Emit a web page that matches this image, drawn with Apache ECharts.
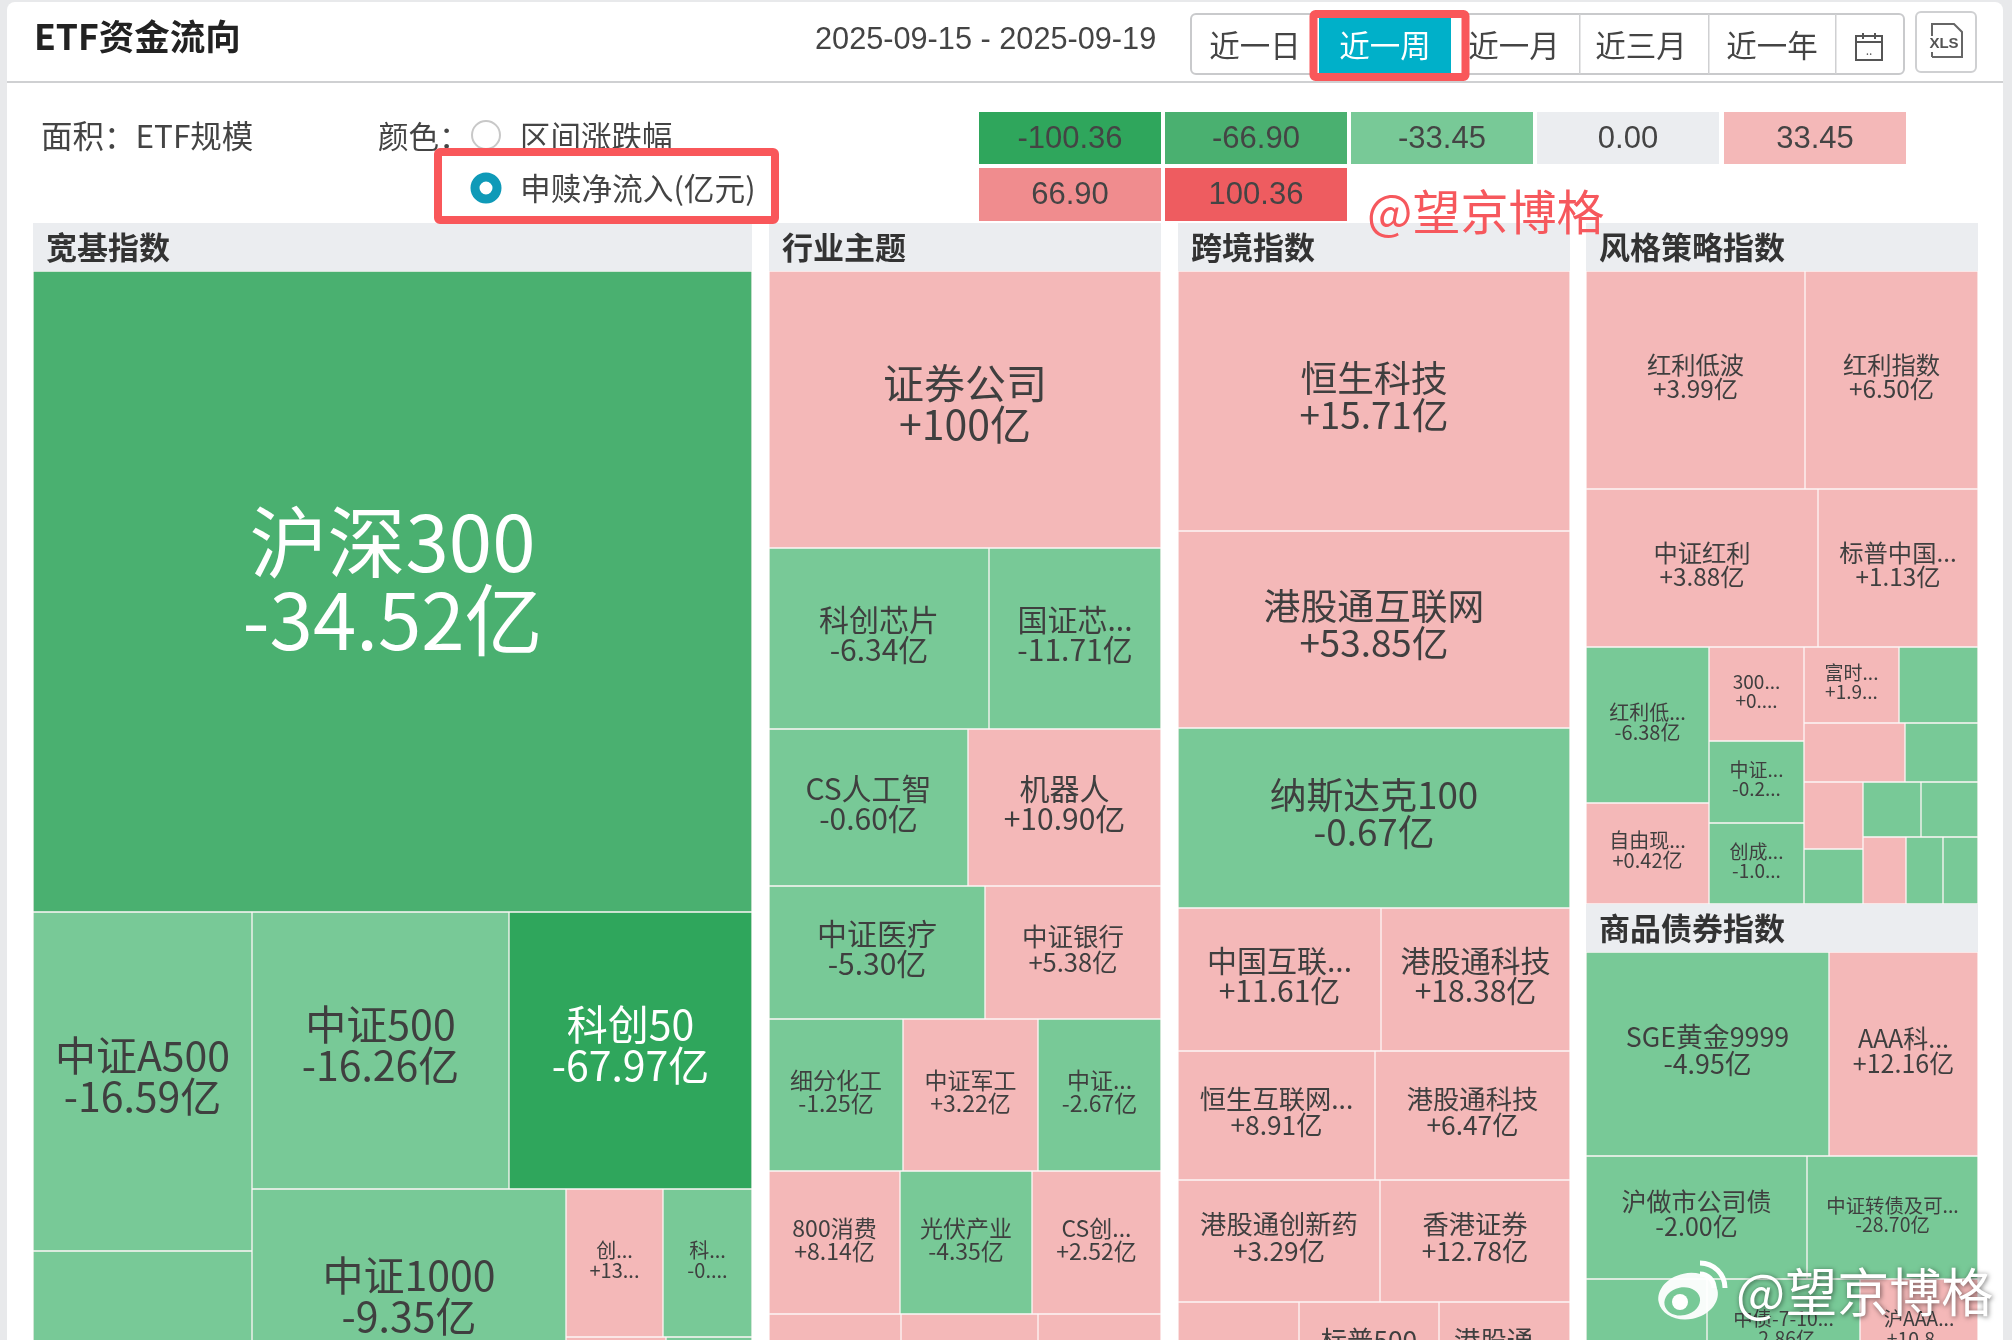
<!DOCTYPE html>
<html>
<head>
<meta charset="utf-8">
<style>
  html, body { margin: 0; padding: 0; background: #e8e9eb; overflow: hidden; }
  #main { width: 2012px; height: 1340px; }
</style>
</head>
<body>
<div id="main"></div>
<script src="https://cdn.jsdelivr.net/npm/echarts@6/dist/echarts.min.js"></script>
<script>
// 图例
const legendLabels = ['-100.36', '-66.90', '-33.45', '0.00', '33.45', '66.90', '100.36'];
const legendColors = ['#2fa65c', '#4ab070', '#78c997', '#ebedf0', '#f4b8b8', '#f08c8e', '#ee5c60'];
const rangeButtons = ['近一日', '近一周', '近一月', '近三月', '近一年'];

// 宽基指数：面积 = ETF规模，读图估算；最后几格在截图外
const kuanjiNames = ['沪深300', '中证A500', '', '中证500', '科创50', '中证1000', '创...', '科...', '', ''];
const kuanjiScale = [460879, 74241, 35697, 71189, 67311, 70650, 14356, 13172, 7700, 6622];
const kuanjiFlow = ['-34.52亿', '-16.59亿', '-5.20亿', '-16.26亿', '-67.97亿', '-9.35亿', '+13...', '-0....', '+2.10亿', '-0.80亿'];
const kuanjiTree = [0, [[1, 2], [[3, 4], [5, [[6, 7], [8, 9]]]]]];

// 行业主题
const hangyeNames = ['证券公司', '科创芯片', '国证芯...', 'CS人工智', '机器人', '中证医疗', '中证银行', '细分化工', '中证军工', '中证...', '800消费', '光伏产业', 'CS创...', '', '', '', ''];
const hangyeScale = [108584, 39820, 31132, 31243, 30301, 28728, 23408, 20368, 20520, 18696, 18733, 18876, 18447, 14520, 15070, 13530, 117600];
const hangyeFlow = ['+100亿', '-6.34亿', '-11.71亿', '-0.60亿', '+10.90亿', '-5.30亿', '+5.38亿', '-1.25亿', '+3.22亿', '-2.67亿', '+8.14亿', '-4.35亿', '+2.52亿', '+1.20亿', '+2.40亿', '+0.90亿', '+1.00亿'];
const hangyeTree = [0, [1, 2], [3, 4], [5, 6], [7, 8, 9], [10, 11, 12], [13, 14, 15], 16];

// 跨境指数
const kuajingNames = ['恒生科技', '港股通互联网', '纳斯达克100', '中国互联...', '港股通科技', '恒生互联网...', '港股通科技', '港股通创新药', '香港证券', '', '标普500', '港股通...', ''];
const kuajingScale = [101920, 77224, 70560, 29029, 27027, 25413, 25155, 24644, 23180, 13310, 15400, 14410, 117600];
const kuajingFlow = ['+15.71亿', '+53.85亿', '-0.67亿', '+11.61亿', '+18.38亿', '+8.91亿', '+6.47亿', '+3.29亿', '+12.78亿', '+1.50亿', '+2.10亿', '+3.40亿', '+1.00亿'];
const kuajingTree = [0, 1, 2, [3, 4], [5, 6], [7, 8], [9, 10, 11], 12];

// 风格策略指数
const fenggeNames = ['红利低波', '红利指数', '中证红利', '标普中国...', '红利低...', '自由现...', '300...', '中证...', '创成...', '富时...', '', '', '', '', '', '', '', '', '', ''];
const fenggeScale = [47742, 37714, 36656, 25280, 19188, 12423, 8930, 7790, 7695, 7220, 6004, 5959, 4307, 3953, 3245, 3190, 3135, 2881, 2479, 2345];
const fenggeFlow = ['+3.99亿', '+6.50亿', '+3.88亿', '+1.13亿', '-6.38亿', '+0.42亿', '+0....', '-0.2...', '-1.0...', '+1.9...', '-0.60亿', '+0.50亿', '-0.40亿', '+0.30亿', '-0.20亿', '-0.30亿', '-0.10亿', '+0.20亿', '-0.10亿', '-0.20亿'];
const fenggeTree = [[0, 1], [2, 3], [[4, 5], [6, 7, 8], [[9, 10], [11, 12], [[13, 14], [[15, 16], [17, 18, 19]]]]]];

// 商品债券指数
const shangpinNames = ['SGE黄金9999', 'AAA科...', '沪做市公司债', '中证转债及可...', '', '中债-7-10...', '沪AAA...', ''];
const shangpinScale = [49572, 30396, 27183, 21033, 12584, 15912, 12272, 117600];
const shangpinFlow = ['-4.95亿', '+12.16亿', '-2.00亿', '-28.70亿', '-1.10亿', '-2.86亿', '+10.8...', '+1.00亿'];
const shangpinTree = [[0, 1], [2, 3], [4, 5, 6], 7];

const CJK = '"Noto Sans CJK SC", "Noto Sans", sans-serif';
const LATIN = '"Liberation Sans", "Noto Sans CJK SC", sans-serif';

function flowColor(flow) {
  const v = parseFloat(flow);
  if (v <= -66.9) return legendColors[0];
  if (v <= -33.45) return legendColors[1];
  if (flow.charAt(0) === '-') return legendColors[2];
  if (v > 100.36) return legendColors[6];
  return legendColors[4];
}

// 字号档位：[规模下限, 字号]
function labelSize(value, stops) {
  for (let i = 0; i < stops.length; i++) {
    if (value >= stops[i][0]) return stops[i][1];
  }
  return stops[stops.length - 1][1];
}

function buildNode(spec, g) {
  if (Array.isArray(spec)) {
    return { name: '', children: spec.map(s => buildNode(s, g)) };
  }
  const name = g.names[spec];
  const flow = g.flow[spec];
  const size = labelSize(g.scale[spec], g.stops);
  const dark = parseFloat(flow) <= -33.45;
  return {
    name: name,
    value: g.scale[spec],
    itemStyle: { color: flowColor(flow), borderColor: '#fdf6f6', borderWidth: 0.65 },
    label: {
      show: name !== '',
      position: 'inside',
      offset: [0, -size * 0.13],
      formatter: name + '\n' + flow,
      fontFamily: CJK,
      fontSize: size,
      lineHeight: size,
      color: dark ? '#fff' : '#3f3f3f',
      align: 'center',
      verticalAlign: 'middle'
    }
  };
}

function treemapSeries(title, left, top, width, g) {
  const total = g.scale.reduce((a, b) => a + b, 0);
  return {
    type: 'treemap',
    left: left,
    top: top,
    width: width,
    height: 48 + total / width,
    sort: false,
    squareRatio: 1e-6,
    roam: false,
    nodeClick: false,
    silent: true,
    animation: false,
    breadcrumb: { show: false },
    visibleMin: 0,
    levels: [
      { itemStyle: { borderWidth: 0, gapWidth: 0 } },
      {
        itemStyle: { borderWidth: 0, gapWidth: 0, borderColor: '#fff' },
        upperLabel: {
          show: true,
          height: 48,
          color: '#333',
          fontFamily: CJK,
          fontSize: 31,
          fontWeight: 'bold',
          backgroundColor: '#ebedf0',
          padding: [0, 0, 0, 13],
          align: 'left',
          verticalAlign: 'middle'
        }
      }
    ],
    data: [{ name: title, children: g.tree.map(s => buildNode(s, g)) }]
  };
}

const series = [
  treemapSeries('宽基指数', 33, 223, 719, { names: kuanjiNames, scale: kuanjiScale, flow: kuanjiFlow, tree: kuanjiTree, stops: [[400000, 78], [60000, 41], [0, 20]] }),
  treemapSeries('行业主题', 769, 223, 392, { names: hangyeNames, scale: hangyeScale, flow: hangyeFlow, tree: hangyeTree, stops: [[100000, 41], [25000, 30], [22000, 25.5], [0, 23]] }),
  treemapSeries('跨境指数', 1178, 223, 392, { names: kuajingNames, scale: kuajingScale, flow: kuajingFlow, tree: kuajingTree, stops: [[60000, 36.8], [27000, 30], [0, 26.3]] }),
  treemapSeries('风格策略指数', 1586, 223, 392, { names: fenggeNames, scale: fenggeScale, flow: fenggeFlow, tree: fenggeTree, stops: [[24000, 24.3], [11000, 20], [0, 19]] }),
  treemapSeries('商品债券指数', 1586, 904, 392, { names: shangpinNames, scale: shangpinScale, flow: shangpinFlow, tree: shangpinTree, stops: [[40000, 26.8], [24000, 25], [0, 19.4]] })
];

function txt(x, y, text, size, fill, extra) {
  return {
    type: 'text',
    z: 20,
    silent: true,
    x: x,
    y: y,
    style: Object.assign({
      text: text,
      fontSize: size,
      fontFamily: CJK,
      fill: fill,
      textAlign: 'left',
      align: 'left',
      textVerticalAlign: 'middle',
      verticalAlign: 'middle'
    }, extra || {})
  };
}

function box(x, y, w, h, style, z, r) {
  return { type: 'rect', z: z === undefined ? 20 : z, silent: true, shape: { x: x, y: y, width: w, height: h, r: r || 0 }, style: style };
}

const center = { textAlign: 'center', align: 'center' };
const graphics = [];

// 卡片底
graphics.push(box(7, 2, 1996, 1400, { fill: '#fff' }, 0, 8));
graphics.push(box(7, 81, 1996, 2, { fill: '#cfd0d2' }, 1));

// 标题区
graphics.push(txt(34, 37, 'ETF资金流向', 35.5, '#222', { fontWeight: 'bold' }));
graphics.push(txt(815, 41, '2025-09-15 - 2025-09-19', 30.7, '#444', { fontFamily: LATIN }));

// 时间按钮
graphics.push(box(1191, 14, 713, 60, { fill: '#fff', stroke: '#c9cacc', lineWidth: 2 }, 1, 5));
[1579, 1708, 1835].forEach(x => graphics.push(box(x, 14, 1.5, 60, { fill: '#cfd0d2' }, 1)));
const buttonCenters = [1255, 1385, 1514, 1641, 1772];
rangeButtons.forEach((b, i) => {
  if (i === 1) graphics.push(box(1319, 18, 132, 55, { fill: '#00b0c9' }, 2));
  graphics.push(txt(buttonCenters[i], 45, b, 30.5, i === 1 ? '#fff' : '#444', center));
});
graphics.push(box(1313.5, 14, 152, 63, { fill: 'none', stroke: '#f9575a', lineWidth: 8 }, 21, 2));

// 日历图标
graphics.push(box(1856, 36, 26, 24, { fill: 'none', stroke: '#555', lineWidth: 2 }));
graphics.push(box(1856, 41, 26, 2, { fill: '#555' }));
graphics.push(box(1862, 33, 2, 6, { fill: '#555' }));
graphics.push(box(1874, 33, 2, 6, { fill: '#555' }));
graphics.push(txt(1869, 50, '..', 12, '#555', center));

// 导出按钮
graphics.push(box(1916, 12, 60, 60, { fill: '#fff', stroke: '#cfd0d2', lineWidth: 2 }, 1, 5));
graphics.push({
  type: 'polyline', z: 20, silent: true,
  shape: { points: [[1932, 57], [1932, 24], [1954, 24], [1962, 32], [1962, 57], [1932, 57]] },
  style: { fill: 'none', stroke: '#666', lineWidth: 2 }
});
graphics.push(box(1926, 36, 34, 16, { fill: '#fff' }));
graphics.push(txt(1944, 44, 'XLS', 15, '#555', Object.assign({ fontWeight: 'bold', fontFamily: LATIN }, center)));

// 选项
graphics.push(txt(41, 136, '面积：ETF规模', 31.5, '#444'));
graphics.push(txt(378, 136, '颜色：', 30.5, '#444'));
graphics.push({ type: 'circle', z: 20, silent: true, shape: { cx: 486, cy: 135, r: 14 }, style: { fill: '#fff', stroke: '#c8c8c8', lineWidth: 2 } });
graphics.push(txt(520, 136, '区间涨跌幅', 30.5, '#444'));
graphics.push({ type: 'circle', z: 20, silent: true, shape: { cx: 486, cy: 188, r: 11 }, style: { fill: '#fff', stroke: '#0f9ab8', lineWidth: 9 } });
graphics.push(txt(520, 188, '申赎净流入(亿元)', 30.7, '#444'));
graphics.push(box(438, 152, 337, 68, { fill: 'none', stroke: '#f9575a', lineWidth: 8 }, 21, 2));

// 图例色块
const legendX = [979, 1165, 1351, 1537, 1724];
legendLabels.forEach((label, i) => {
  const row = i < 5 ? 0 : 1;
  const x = row === 0 ? legendX[i] : legendX[i - 5];
  const y = row === 0 ? 112 : 168;
  const h = row === 0 ? 52 : 53;
  graphics.push(box(x, y, 182, h, { fill: legendColors[i] }, 3));
  graphics.push(txt(x + 91, y + h / 2 + 1, label, 31, '#444', Object.assign({ fontFamily: LATIN }, center)));
});

// 水印
graphics.push(txt(1367, 212, '@望京博格', 48, '#f6585d', { fontFamily: CJK }));
const wm = { fill: '#fff', opacity: 0.95 };
graphics.push({ type: 'ellipse', z: 30, silent: true, rotation: 0.2, originX: 1684, originY: 1296, shape: { cx: 1688, cy: 1297, rx: 30, ry: 23 }, style: wm });
graphics.push({ type: 'ellipse', z: 31, silent: true, rotation: 0.2, originX: 1684, originY: 1300, shape: { cx: 1682, cy: 1301, rx: 18, ry: 14 }, style: { fill: '#78c997' } });
graphics.push({ type: 'circle', z: 32, silent: true, shape: { cx: 1680, cy: 1302, r: 8 }, style: { fill: '#fff' } });
graphics.push({ type: 'arc', z: 30, silent: true, shape: { cx: 1700, cy: 1288, r: 14, startAngle: -Math.PI / 2, endAngle: 0 }, style: { fill: 'none', stroke: '#fff', lineWidth: 5 } });
graphics.push({ type: 'arc', z: 30, silent: true, shape: { cx: 1700, cy: 1288, r: 25, startAngle: -Math.PI / 2, endAngle: 0 }, style: { fill: 'none', stroke: '#fff', lineWidth: 5 } });
graphics.push({
  type: 'text', z: 30, silent: true, x: 1736, y: 1292,
  style: {
    text: '@望京博格', fontSize: 52, fontFamily: CJK, fill: '#fff',
    textVerticalAlign: 'middle', verticalAlign: 'middle',
    textShadowBlur: 5, textShadowColor: 'rgba(0,0,0,0.55)', textShadowOffsetX: 1, textShadowOffsetY: 1,
    shadowBlur: 5, shadowColor: 'rgba(0,0,0,0.55)', shadowOffsetX: 1, shadowOffsetY: 1
  }
});

const chart = echarts.init(document.getElementById('main'));
chart.setOption({
  animation: false,
  backgroundColor: '#e8e9eb',
  graphic: { elements: graphics },
  series: series
});
</script>
</body>
</html>
